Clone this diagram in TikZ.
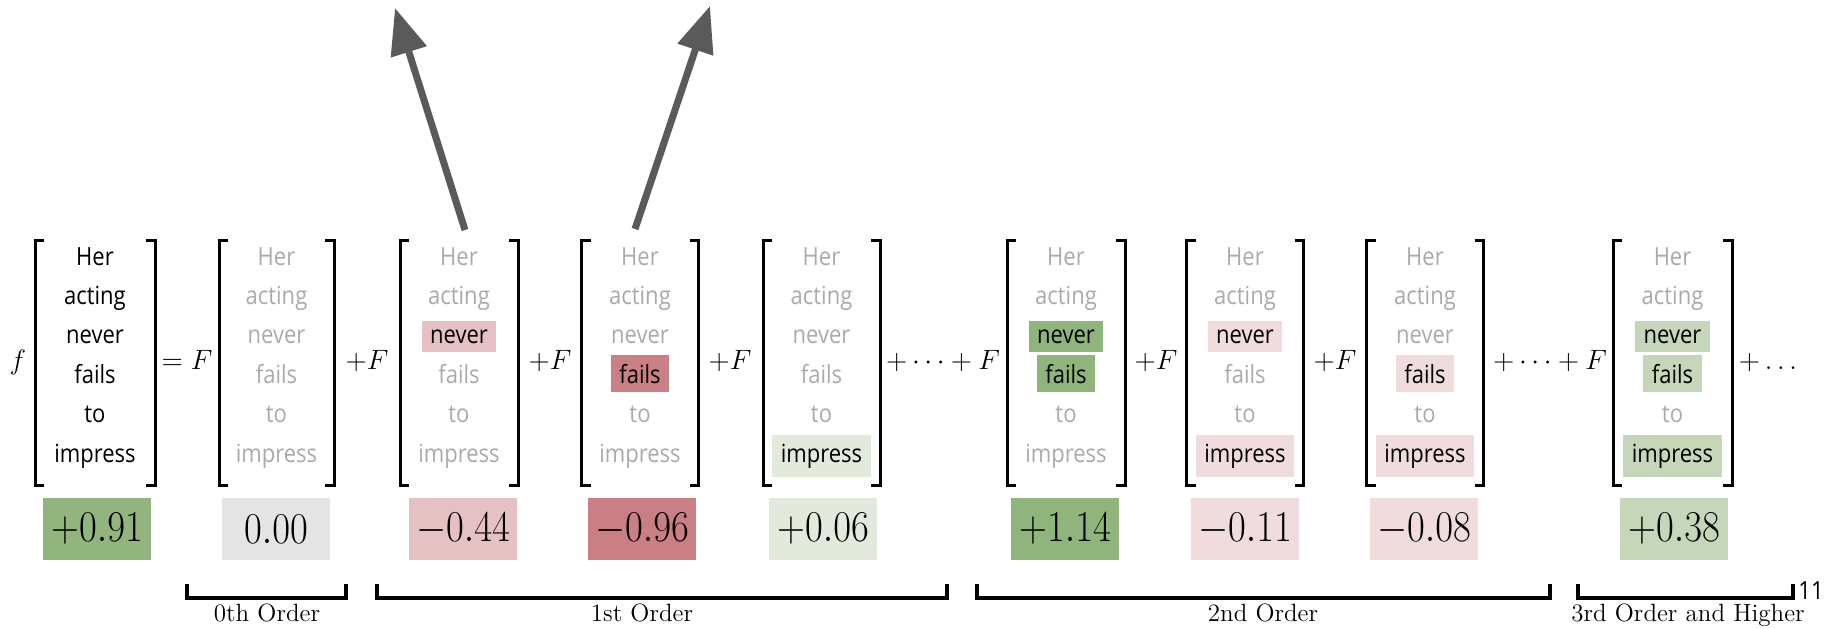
\RequirePackage{fix-cm}
\documentclass[tikz,border=0pt]{standalone}
\usepackage{graphicx}
\usepackage{fontspec}
\newfontfamily\wordfont{Open Sans}
\usetikzlibrary{arrows.meta}

\definecolor{wordgray}{RGB}{170,170,170}
\definecolor{arrowgray}{RGB}{90,90,90}
\definecolor{posA}{RGB}{146,180,126}
\definecolor{posB}{RGB}{143,180,124}
\definecolor{posC}{RGB}{197,215,184}
\definecolor{posD}{RGB}{226,234,219}
\definecolor{zeroC}{RGB}{229,229,229}
\definecolor{negA}{RGB}{229,193,195}
\definecolor{negB}{RGB}{201,127,131}
\definecolor{negC}{RGB}{240,220,221}

% slightly condensed setting of a piece of text
\newcommand\narrow[1]{\scalebox{0.88}[1]{#1}}

% one bracketed column of the sentence: name, centre x, width, six word styles
\newcommand\wordstack[9]{%
  \node[stackbox=#3] (#1) at (#2,362.5) {};
  \draw[bracket] ([xshift=4.5pt]#1.north west) -- (#1.north west) -- (#1.south west) -- ([xshift=4.5pt]#1.south west);
  \draw[bracket] ([xshift=-4.5pt]#1.north east) -- (#1.north east) -- (#1.south east) -- ([xshift=-4.5pt]#1.south east);
  \node[word,#4] (#1-1) at (#2,265) {\narrow{Her}};
  \node[word,#5] (#1-2) at (#2,304) {\narrow{acting}};
  \node[word,#6] (#1-3) at (#2,343.5) {\narrow{never}};
  \node[word,#7] (#1-4) at (#2,383) {\narrow{fails}};
  \node[word,#8] (#1-5) at (#2,422.5) {\narrow{to}};
  \node[word,#9] (#1-6) at (#2,462) {\narrow{impress}};
}

\begin{document}
\begin{tikzpicture}[x=0.5pt,y=-0.5pt,
  word/.style={anchor=base, inner sep=4.25pt, font=\wordfont\fontsize{12.5}{15}\selectfont},
  dim/.style={text=wordgray},
  ink/.style={text=black},
  hl/.style={fill=#1, text=black},
  stackbox/.style={minimum width=#1*0.5pt, minimum height=122.5pt, inner sep=0pt, outer sep=0pt},
  bracket/.style={line width=1.5pt},
  score/.style={minimum width=54pt, minimum height=31pt, inner sep=0pt, font=\fontsize{22}{26}\selectfont},
  op/.style={anchor=base, inner sep=0pt, font=\fontsize{14}{16}\selectfont},
  orderline/.style={line width=1.6pt},
  orderlabel/.style={anchor=base, inner sep=0pt, font=\fontsize{12.5}{15}\selectfont},
  bigarrow/.style={draw=arrowgray, line width=3.5pt, -{Triangle[width=18pt,length=23pt]}}]

\path[use as bounding box] (0,0) rectangle (1829,628);

% bracketed sentence columns
\wordstack{g1}{95}{120}{ink}{ink}{ink}{ink}{ink}{ink}
\wordstack{g2}{276.5}{115}{dim}{dim}{dim}{dim}{dim}{dim}
\wordstack{g3}{459}{118}{dim}{dim}{hl=negA}{dim}{dim}{dim}
\wordstack{g4}{640}{117}{dim}{dim}{dim}{hl=negB}{dim}{dim}
\wordstack{g5}{821.5}{117}{dim}{dim}{dim}{dim}{dim}{hl=posD}
\wordstack{g6}{1066}{118}{dim}{dim}{hl=posB}{hl=posB}{dim}{dim}
\wordstack{g7}{1245}{117}{dim}{dim}{hl=negC}{dim}{dim}{hl=negC}
\wordstack{g8}{1425}{117}{dim}{dim}{dim}{hl=negC}{dim}{hl=negC}
\wordstack{g9}{1672.5}{119}{dim}{dim}{hl=posC}{hl=posC}{dim}{hl=posC}

% operators between the columns
\node[op] (o0) at (18,369) {$f$};
\node[op] (o1) at (187,369) {$=F$};
\node[op] (o2) at (367,369) {$+F$};
\node[op] (o3) at (550,369) {$+F$};
\node[op] (o4) at (730,369) {$+F$};
\node[op] (o5) at (943,369) {$+\cdots+F$};
\node[op] (o6) at (1156,369) {$+F$};
\node[op] (o7) at (1335,369) {$+F$};
\node[op] (o8) at (1550,369) {$+\cdots+F$};
\node[op] (o9) at (1768,369) {$+\ldots$};

% attribution scores
\node[score, fill=posA]  (v1) at (97,529)   {\narrow{$+0.91$}};
\node[score, fill=zeroC] (v2) at (276,529)  {\narrow{$0.00$}};
\node[score, fill=negA]  (v3) at (463,529)  {\narrow{$-0.44$}};
\node[score, fill=negB]  (v4) at (642,529)  {\narrow{$-0.96$}};
\node[score, fill=posD]  (v5) at (823,529)  {\narrow{$+0.06$}};
\node[score, fill=posB]  (v6) at (1065,529) {\narrow{$+1.14$}};
\node[score, fill=negC]  (v7) at (1245,529) {\narrow{$-0.11$}};
\node[score, fill=negC]  (v8) at (1424,529) {\narrow{$-0.08$}};
\node[score, fill=posC]  (v9) at (1674,529) {\narrow{$+0.38$}};

% order groupings
\draw[orderline] (187,584) -- (187,598) -- (346,598) -- (346,584);
\draw[orderline] (377,584) -- (377,598) -- (947,598) -- (947,584);
\draw[orderline] (977,584) -- (977,598) -- (1550,598) -- (1550,584);
\draw[orderline] (1578,584) -- (1578,598) -- (1793,598) -- (1793,584);
\node[orderlabel] (l0) at (267,621) {0th Order};
\node[orderlabel] (l1) at (642,621) {1st Order};
\node[orderlabel] (l2) at (1263,621) {2nd Order};
\node[orderlabel] (l3) at (1688,621) {3rd Order and Higher};

\node[anchor=base west, inner sep=0pt, font=\wordfont\fontsize{12.5}{15}\selectfont] (pg) at (1798,599) {\narrow{11}};

% arrows leaving the first-order terms
\coordinate (tipA) at (395,8);
\coordinate (tipB) at (710,6);
\draw[bigarrow] ([xshift=3pt,yshift=5pt]g3.north) -- (tipA);
\draw[bigarrow] ([xshift=-2.5pt,yshift=5.5pt]g4.north) -- (tipB);
\end{tikzpicture}
\end{document}
